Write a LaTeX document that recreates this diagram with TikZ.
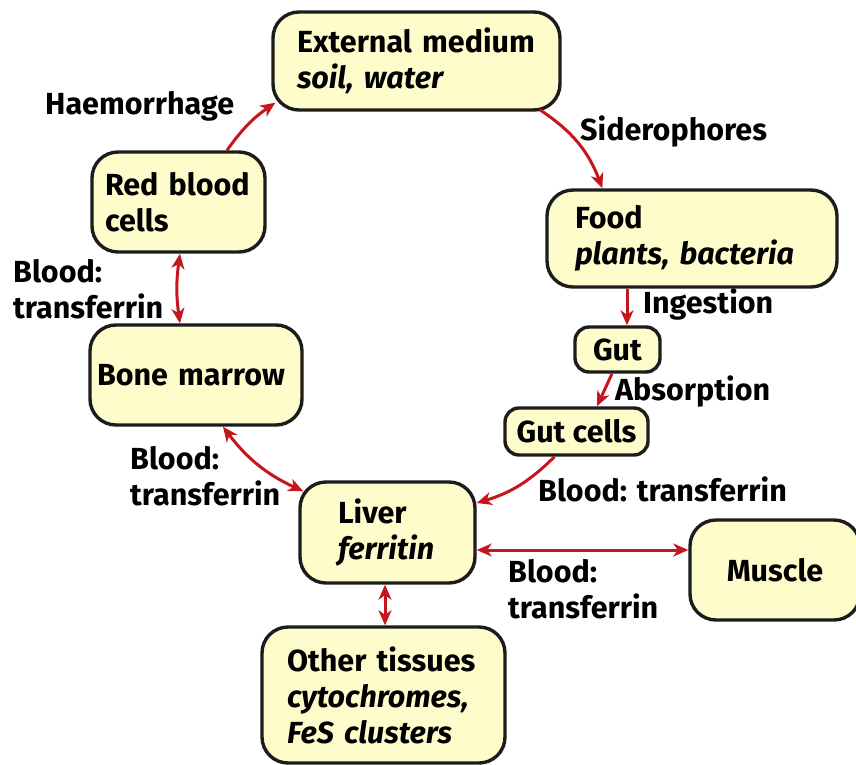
\documentclass[tikz,border=0pt]{standalone}
\usepackage{fontspec}
\setmainfont{Fira Sans}
\usetikzlibrary{arrows.meta}
\definecolor{boxfill}{RGB}{255,252,204}
\definecolor{arr}{RGB}{196,22,28}
\definecolor{edgec}{RGB}{28,28,28}
\begin{document}
\begin{tikzpicture}[x=1pt,y=-1pt,
  font=\fontsize{30.5}{36}\selectfont\bfseries,
  box/.style={draw=edgec, line width=3.4pt, fill=boxfill, rounded corners=26pt,
    align=left, inner ysep=0pt},
  smallbox/.style={box, rounded corners=14pt},
  conn/.style={draw=arr, line width=3pt},
  onehead/.style={-{Stealth[length=15pt,width=13pt,inset=4.5pt]}},
  twohead/.style={{Stealth[length=15pt,width=13pt,inset=4.5pt]}-{Stealth[length=15pt,width=13pt,inset=4.5pt]}},
  lbl/.style={anchor=base west, inner sep=0pt, align=left}]
\useasboundingbox (0,0) rectangle (856,765);

% boxes
\node[box, minimum width=287pt, minimum height=98pt, text width=239pt, inner xsep=24pt] (ext) at (416.5,61)
  {\mbox{External medium}\\\mbox{\textit{soil, water}}};
\node[box, minimum width=173pt, minimum height=100pt, text width=147pt, inner xsep=13pt] (rbc) at (178.5,202)
  {\mbox{Red blood}\\cells};
\node[box, minimum width=290pt, minimum height=97pt, text width=234pt, inner xsep=28pt] (food) at (692,238.5)
  {Food\\\mbox{\textit{plants, bacteria}}};
\node[smallbox, minimum width=85pt, minimum height=45pt, inner xsep=0pt] (gut) at (617.5,349.5) {Gut};
\node[smallbox, minimum width=143pt, minimum height=47pt, inner xsep=0pt] (gutc) at (576.5,431.5) {\mbox{Gut cells}};
\node[box, minimum width=212pt, minimum height=100pt, text width=198pt, inner xsep=7pt] (bm) at (196,375)
  {\mbox{Bone marrow}};
\node[box, minimum width=175pt, minimum height=101pt, text width=99pt, inner xsep=38pt] (liver) at (387.5,532.5)
  {Liver\\\textit{ferritin}};
\node[box, minimum width=170pt, minimum height=100pt, inner xsep=0pt] (muscle) at (775,570) {Muscle};
\node[box, minimum width=243pt, minimum height=136pt, text width=193pt, inner xsep=25pt] (other) at (383.5,695)
  {\mbox{Other tissues}\\\mbox{\textit{cytochromes,}}\\\mbox{\textit{FeS clusters}}};

% connectors
\draw[conn, onehead] ([xshift=48.5pt]rbc.north) to[bend left=10] ([xshift=4pt,yshift=9pt]ext.south west);
\draw[conn, onehead] ([xshift=-22pt,yshift=2pt]ext.south east) to[bend left=18] ([xshift=57pt]food.north west);
\draw[conn, onehead] ([xshift=-65pt]food.south) to ([xshift=9.5pt]gut.north);
\draw[conn, onehead] ([xshift=-5.5pt]gut.south) to ([xshift=20.5pt]gutc.north);
\draw[conn, onehead] ([xshift=-22pt]gutc.south) to[bend left=14] ([yshift=29.5pt]liver.east);
\draw[conn, twohead] ([xshift=27pt]bm.south) to[bend right=14] ([xshift=5pt,yshift=-11pt]liver.north west);
\draw[conn, twohead] ([xshift=1.5pt]rbc.south) to[bend right=8] ([xshift=-16pt]bm.north);
\draw[conn, twohead] ([yshift=-17.5pt]liver.east) to ([yshift=20pt]muscle.west);
\draw[conn, twohead] ([xshift=-2.5pt]liver.south) to ([xshift=1.5pt]other.north);

% labels
\node[lbl] (hem) at (45,115) {Haemorrhage};
\node[lbl] (sid) at (580,140) {Siderophores};
\node[lbl] (bt1) at (13,318) {Blood:\\transferrin};
\node[lbl] (ing) at (643,313) {Ingestion};
\node[lbl] (abs) at (615,400) {Absorption};
\node[lbl] (bt2) at (130,505) {Blood:\\transferrin};
\node[lbl] (bt3) at (538,501) {Blood: transferrin};
\node[lbl] (bt4) at (508,618) {Blood:\\transferrin};
\end{tikzpicture}
\end{document}
